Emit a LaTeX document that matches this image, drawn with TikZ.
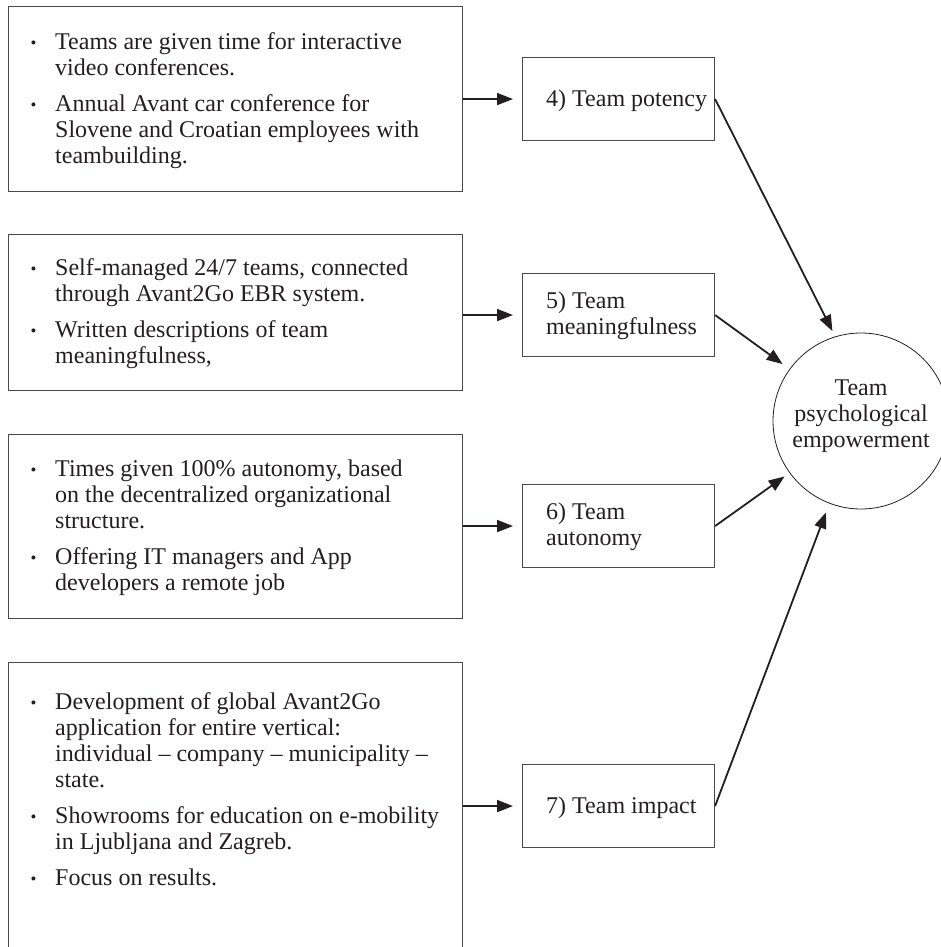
\documentclass[tikz,border=0pt]{standalone}
\usepackage{graphicx}
\usepackage{fontspec}
\setmainfont{Liberation Serif}
\usetikzlibrary{arrows.meta}
\definecolor{ink}{HTML}{231F20}
\definecolor{edge}{HTML}{4A4A4A}
\newcommand{\bul}{\makebox[24pt][l]{\hspace*{-0.5pt}\raisebox{0.1ex}{\scalebox{0.7}{\textbullet}}}}
\newcommand{\ind}{\hspace*{24pt}}
\begin{document}
\begin{tikzpicture}[x=1pt,y=-1pt,
  every node/.style={font=\fontsize{24}{26}\selectfont, text=ink},
  lbox/.style={draw=edge, line width=1.1pt, inner sep=0pt, minimum width=454pt, anchor=north west},
  rbox/.style={draw=edge, line width=1.1pt, minimum width=192pt, minimum height=83pt, inner sep=0pt, anchor=north west},
  txt/.style={align=left, anchor=west, inner sep=0pt},
  arr/.style={draw=ink, line width=1.8pt, -{Triangle[length=16pt,width=12pt]}},
]
\useasboundingbox (0,0) rectangle (941,947);
\begin{scope}
\clip (0,0) rectangle (941,947);
% left boxes
\node[lbox, minimum height=185pt] (b1) at (8,6) {};
\node[lbox, minimum height=156pt] (b2) at (8,234) {};
\node[lbox, minimum height=184pt] (b3) at (8,434) {};
\node[lbox, minimum height=320pt] (b4) at (8,662) {};
\node[txt] (t1) at ([xshift=23pt,yshift=-1.5pt]b1.west) {\bul Teams are given time for interactive\\ \ind video conferences.\\[10pt] \bul Annual Avant car conference for\\ \ind Slovene and Croatian employees with\\ \ind teambuilding.};
\node[txt] (t2) at ([xshift=23pt,yshift=-1.5pt]b2.west) {\bul Self-managed 24/7 teams, connected\\ \ind through Avant2Go EBR system.\\[10pt] \bul Written descriptions of team\\ \ind meaningfulness,};
\node[txt] (t3) at ([xshift=23pt,yshift=-1.5pt]b3.west) {\bul Times given 100\% autonomy, based\\ \ind on the decentralized organizational\\ \ind structure.\\[10pt] \bul Offering IT managers and App\\ \ind developers a remote job};
\node[txt] (t4) at (31,789.5) {\bul Development of global Avant2Go\\ \ind application for entire vertical:\\ \ind individual -- company -- municipality --\\ \ind state.\\[10pt] \bul Showrooms for education on e-mobility\\ \ind in Ljubljana and Zagreb.\\[10pt] \bul Focus on results.};
% right boxes
\node[rbox] (p4) at (522,57) {};
\node[rbox] (p5) at (522,273) {};
\node[rbox] (p6) at (522,484) {};
\node[rbox] (p7) at (522,764) {};
\node[txt] (r4) at ([xshift=24pt,yshift=-2pt]p4.west) {4) Team potency};
\node[txt] (r5) at ([xshift=24pt,yshift=-1pt]p5.west) {5) Team\\meaningfulness};
\node[txt] (r6) at ([xshift=24pt,yshift=-1pt]p6.west) {6) Team\\autonomy};
\node[txt] (r7) at ([xshift=24pt,yshift=-2pt]p7.west) {7) Team impact};
% circle
\node[circle, draw=ink, line width=0.8pt, minimum size=176pt, inner sep=0pt] (circ) at (861,421) {};
\node[align=center, inner sep=0pt] (ct) at (861,416) {Team\\psychological\\empowerment};
% arrows
\draw[arr, shorten >=9pt] (p4.west -| b1.east) -- (p4.west);
\draw[arr, shorten >=9pt] (p5.west -| b2.east) -- (p5.west);
\draw[arr, shorten >=9pt] (p6.west -| b3.east) -- (p6.west);
\draw[arr, shorten >=9pt] (p7.west -| b4.east) -- (p7.west);
\draw[arr, shorten >=6pt] (p4.east) -- (circ.107.5);
\draw[arr, shorten >=8.5pt] (p5.east) -- (circ.144.5);
\draw[arr, shorten >=6pt] (p6.east) -- (circ.216.8);
\draw[arr, shorten >=9.5pt] (p7.east) -- (circ.249.6);
\end{scope}
\end{tikzpicture}
\end{document}
